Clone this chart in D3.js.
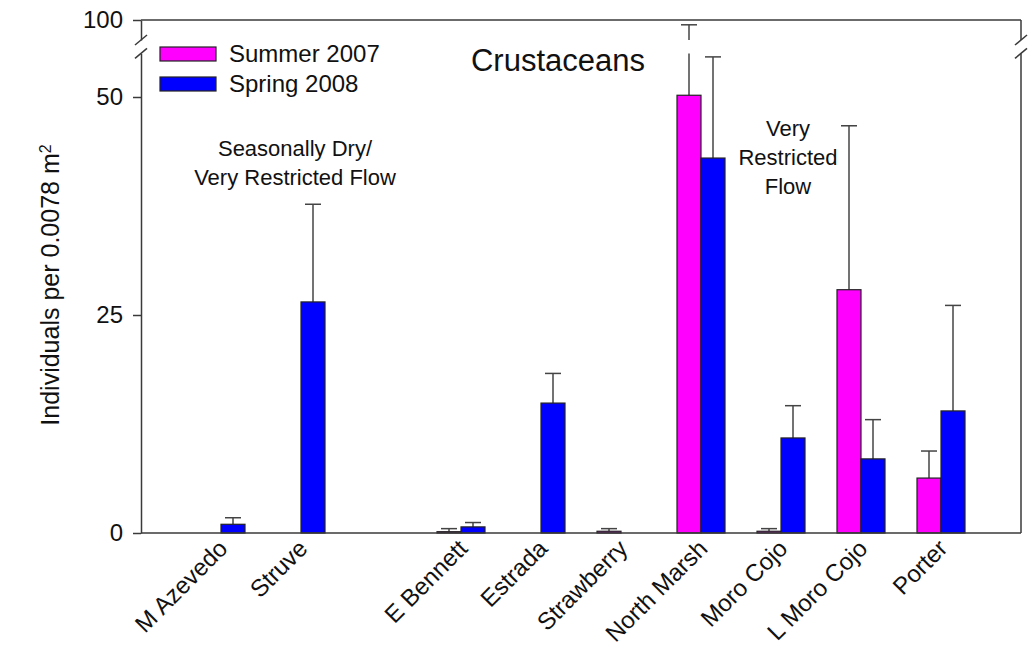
<!DOCTYPE html>
<html>
<head>
<meta charset="utf-8">
<script src="https://cdn.jsdelivr.net/npm/d3@7"></script>
<style>
  body { margin: 0; background: #fff; }
  text { font-family: Arial, "Liberation Sans", sans-serif; fill: #111; }
</style>
</head>
<body>
<div id="viz"></div>
<script>
// data
var sites = ["M Azevedo", "Struve", "E Bennett", "Estrada", "Strawberry",
             "North Marsh", "Moro Cojo", "L Moro Cojo", "Porter"];
var summer2007 = [null, null, 0.15, null, 0.2, 50.2, 0.2, 27.9, 6.3];
var summer2007Err = [null, null, 0.35, null, 0.3, 48.6, 0.3, 18.8, 3.1];
var spring2008 = [1.0, 26.5, 0.7, 14.9, null, 43.0, 10.9, 8.5, 14.0];
var spring2008Err = [0.75, 11.2, 0.5, 3.4, null, 11.6, 3.7, 4.5, 12.1];
var seriesNames = ["Summer 2007", "Spring 2008"];
var seriesColors = ["#ff00ff", "#0000ff"];
var lowTicks = [0, 25, 50];
var highTicks = [100];

// dimensions
var width = 1029, height = 652;
var mLeft = 141, mRight = 1021, mBottom = 533, mTop = 20;

var svg = d3.select("#viz")
  .append("svg")
  .attr("width", width)
  .attr("height", height);

// broken y axis: 0-55 below the break, 95-100 above it
var yLow = d3.scaleLinear().domain([0, 55]).range([mBottom, mBottom - 55 * 8.72]);
var yHigh = d3.scaleLinear().domain([95, 100]).range([40, mTop]);

// x positions, one empty slot between the two site groups
var domain = sites.slice(0, 2).concat(["_gap"], sites.slice(2));
var x = d3.scalePoint().domain(domain).range([mLeft, mRight]).padding(1);
var xSub = d3.scaleBand().domain(seriesNames).range([-24, 24]);

var frameColor = "#3a3a3a";

// left axis pieces
svg.append("g")
  .attr("transform", "translate(" + mLeft + ",0)")
  .call(d3.axisLeft(yLow).tickValues(lowTicks).tickFormat(d3.format("d"))
    .tickSize(8).tickSizeOuter(0).tickPadding(10));
svg.append("g")
  .attr("transform", "translate(" + mLeft + ",0)")
  .call(d3.axisLeft(yHigh).tickValues(highTicks).tickFormat(d3.format("d"))
    .tickSize(8).tickSizeOuter(0).tickPadding(10));

svg.selectAll(".tick text")
  .style("font-size", "24px")
  .style("font-family", "Arial, 'Liberation Sans', sans-serif")
  .attr("fill", "#111");
svg.selectAll(".domain, .tick line").attr("stroke", frameColor).attr("stroke-width", 1.5);

// right side of the frame
svg.append("line")
  .attr("x1", mRight).attr("x2", mRight)
  .attr("y1", yLow(0)).attr("y2", yLow(55))
  .attr("stroke", frameColor).attr("stroke-width", 1.5);
svg.append("line")
  .attr("x1", mRight).attr("x2", mRight)
  .attr("y1", yHigh(95)).attr("y2", yHigh(100))
  .attr("stroke", frameColor).attr("stroke-width", 1.5);
// top line
svg.append("line")
  .attr("x1", mLeft).attr("x2", mRight)
  .attr("y1", yHigh(100)).attr("y2", yHigh(100))
  .attr("stroke", frameColor).attr("stroke-width", 1.5);

// break slashes
[mLeft, mRight].forEach(function(bx) {
  [yHigh(95), yLow(55)].forEach(function(by) {
    svg.append("line")
      .attr("x1", bx - 6).attr("y1", by + 5)
      .attr("x2", bx + 6).attr("y2", by - 5)
      .attr("stroke", frameColor).attr("stroke-width", 1.5);
  });
});

// bars
var rows = sites.map(function(s, i) {
  return [
    {site: s, series: seriesNames[0], v: summer2007[i], e: summer2007Err[i], color: seriesColors[0]},
    {site: s, series: seriesNames[1], v: spring2008[i], e: spring2008Err[i], color: seriesColors[1]}
  ];
});
var bars = [].concat.apply([], rows).filter(function(d) { return d.v != null; });

// error bars (upward only), split over the break if needed
var errG = svg.append("g").attr("stroke", "#444").attr("stroke-width", 1.5);
bars.forEach(function(d) {
  var cx = x(d.site) + xSub(d.series) + xSub.bandwidth() / 2;
  var topV = d.v + d.e;
  var capY;
  if (topV > 55) {
    errG.append("line").attr("x1", cx).attr("x2", cx).attr("y1", yLow(d.v)).attr("y2", yLow(55));
    errG.append("line").attr("x1", cx).attr("x2", cx).attr("y1", yHigh(95)).attr("y2", yHigh(topV));
    capY = yHigh(topV);
  } else {
    errG.append("line").attr("x1", cx).attr("x2", cx).attr("y1", yLow(d.v)).attr("y2", yLow(topV));
    capY = yLow(topV);
  }
  errG.append("line").attr("x1", cx - 8).attr("x2", cx + 8).attr("y1", capY).attr("y2", capY);
});

svg.append("g")
  .selectAll("rect")
  .data(bars)
  .enter().append("rect")
  .attr("x", function(d) { return x(d.site) + xSub(d.series); })
  .attr("width", xSub.bandwidth())
  .attr("y", function(d) { return yLow(d.v); })
  .attr("height", function(d) { return yLow(0) - yLow(d.v); })
  .attr("fill", function(d) { return d.color; })
  .attr("stroke", "#222")
  .attr("stroke-width", 1.2);

// bottom axis line (drawn over bars)
svg.append("line")
  .attr("x1", mLeft).attr("x2", mRight)
  .attr("y1", yLow(0)).attr("y2", yLow(0))
  .attr("stroke", frameColor).attr("stroke-width", 1.5);

// x labels
svg.append("g")
  .selectAll("text")
  .data(sites)
  .enter().append("text")
  .attr("text-anchor", "end")
  .attr("transform", function(d) { return "translate(" + (x(d) + 2) + "," + 544 + ") rotate(-45)"; })
  .attr("dy", "0.35em")
  .style("font-size", "24px")
  .text(function(d) { return d; });

// y label
var yl = svg.append("text")
  .attr("transform", "translate(59,285) rotate(-90)")
  .attr("text-anchor", "middle")
  .style("font-size", "25px");
yl.append("tspan").text("Individuals per 0.0078 m");
yl.append("tspan").attr("baseline-shift", "super").style("font-size", "16px").text("2");

// title
svg.append("text")
  .attr("x", 558).attr("y", 71)
  .attr("text-anchor", "middle")
  .style("font-size", "31px")
  .text("Crustaceans");

// legend
var legend = svg.append("g");
seriesNames.forEach(function(name, i) {
  legend.append("rect")
    .attr("x", 160).attr("y", 47 + i * 30)
    .attr("width", 56).attr("height", 14)
    .attr("fill", seriesColors[i])
    .attr("stroke", "#222").attr("stroke-width", 1.2);
  legend.append("text")
    .attr("x", 229).attr("y", 62 + i * 30)
    .style("font-size", "24px")
    .text(name);
});

// annotations
var note1 = ["Seasonally Dry/", "Very Restricted Flow"];
var note2 = ["Very", "Restricted", "Flow"];
note1.forEach(function(t, i) {
  svg.append("text").attr("x", 295).attr("y", 156 + i * 29)
    .attr("text-anchor", "middle").style("font-size", "22px").text(t);
});
note2.forEach(function(t, i) {
  svg.append("text").attr("x", 788).attr("y", 136 + i * 29)
    .attr("text-anchor", "middle").style("font-size", "22px").text(t);
});
</script>
</body>
</html>
